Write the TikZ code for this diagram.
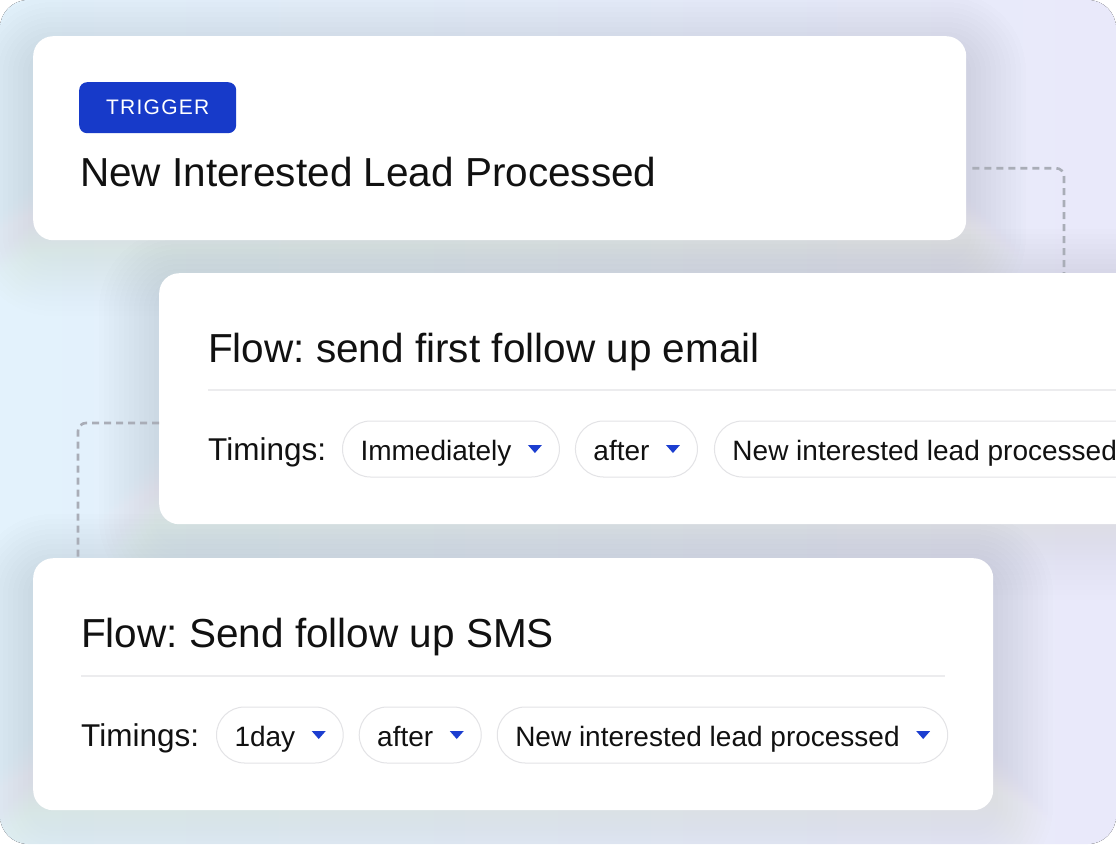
\documentclass[tikz,border=0pt]{standalone}
\usepackage{fontspec}
\setmainfont{Liberation Sans}
\usepackage{tikz}
\usetikzlibrary{positioning}
\frenchspacing

\definecolor{bgleft}{HTML}{E3F2FC}
\definecolor{bgright}{HTML}{E9E9FA}
\definecolor{badgeblue}{HTML}{173AC9}
\definecolor{tipblue}{HTML}{1C3ED0}
\definecolor{pillline}{HTML}{E3E3E6}
\definecolor{divider}{HTML}{ECECEE}
\definecolor{dashgray}{HTML}{A9ADB7}
\definecolor{shade}{HTML}{8494B8}
\definecolor{ink}{HTML}{111111}

\tikzset{
  card/.style={fill=white, rounded corners=20pt, anchor=north west, inner sep=0pt},
  badge/.style={fill=badgeblue, text=white, rounded corners=8pt, anchor=north west,
    minimum width=157pt, minimum height=51pt, inner sep=0pt,
    font=\fontsize{21}{21}\selectfont\addfontfeature{LetterSpace=6}},
  title/.style={font=\fontsize{40.5}{40.5}\selectfont, text=ink, anchor=base west, inner sep=0pt},
  label/.style={font=\fontsize{31.5}{31.5}\selectfont, text=ink, anchor=west, inner sep=0pt,
    text height=22pt, text depth=0pt},
  pill/.style={draw=pillline, line width=1pt, fill=white, rounded corners=28pt,
    minimum height=56pt, inner xsep=18pt, inner ysep=0pt, text height=22pt, text depth=0pt,
    font=\fontsize{28}{28}\selectfont, text=ink},
  flowline/.style={draw=dashgray, line width=2.6pt, dash pattern=on 7pt off 5pt, rounded corners=8pt},
  rulerline/.style={draw=divider, line width=1.5pt},
}

% soft shadow under a card: x1 y1 x2 y2
\newcommand{\softshadow}[4]{
  \foreach \r in {5,10,...,60}
    \fill[shade, opacity=0.0045, rounded corners=20pt+\r]
      (#1-\r,#2-\r+16) rectangle (#3+\r,#4+\r+16);
}
% blue drop-down tip inside a pill
\newcommand{\droptip}[1]{
  \fill[tipblue] ([xshift=-32pt]#1.east) ++(0,-4) -- ++(14,0) -- ++(-7,8) -- cycle;
}

\begin{document}
\begin{tikzpicture}[x=1pt, y=-1pt]
\useasboundingbox (0,0) rectangle (1116,844);
\begin{scope}
\clip[rounded corners=28pt] (0,0) rectangle (1116,844);
\fill[left color=bgleft, right color=bgright] (0,0) rectangle (1116,844);

% shadows
\softshadow{33}{36}{966}{240}
\softshadow{159}{273}{1160}{524}
\softshadow{33}{558}{993}{810}
\end{scope}

% trigger card
\node[card, minimum width=933pt, minimum height=204pt] (trigcard) at (33,36) {};
\node[badge] (badge) at (79,82) {TRIGGER};
\node[title] (trigtitle) at (80,186) {New Interested Lead Processed};

% connectors
\draw[flowline] ([xshift=6pt,yshift=-30pt]trigcard.east) -| (1064,273);

% email card
\node[card, minimum width=1000pt, minimum height=251pt] (emailcard) at (159,273) {};
\node[title] (emailtitle) at (208,362) {Flow: send first follow up email};
\draw[rulerline] (208,390) -- (emailcard.east |- 0,390);
\node[label] (emailtime) at (208,449) {Timings:};
\node[pill, anchor=west] (ewhen) at (342,449) {Immediately\hspace*{30pt}};
\node[pill, right=15pt of ewhen] (erel) {after\hspace*{30pt}};
\node[pill, right=16pt of erel] (eevent) {New interested lead processed\hspace*{30pt}};
\droptip{ewhen}
\droptip{erel}
\droptip{eevent}

\draw[flowline] ([yshift=-150pt]emailcard.north west) -| ([xshift=45pt]33,558);

% sms card
\node[card, minimum width=960pt, minimum height=252pt] (smscard) at (33,558) {};
\node[title] (smstitle) at (81,647) {Flow: Send follow up SMS};
\draw[rulerline] (81,676) -- (945,676);
\node[label] (smstime) at (81,735) {Timings:};
\node[pill, anchor=west] (swhen) at (216,735) {1day\hspace*{30pt}};
\node[pill, right=15pt of swhen] (srel) {after\hspace*{30pt}};
\node[pill, right=15pt of srel] (sevent) {New interested lead processed\hspace*{30pt}};
\droptip{swhen}
\droptip{srel}
\droptip{sevent}
\end{tikzpicture}
\end{document}
